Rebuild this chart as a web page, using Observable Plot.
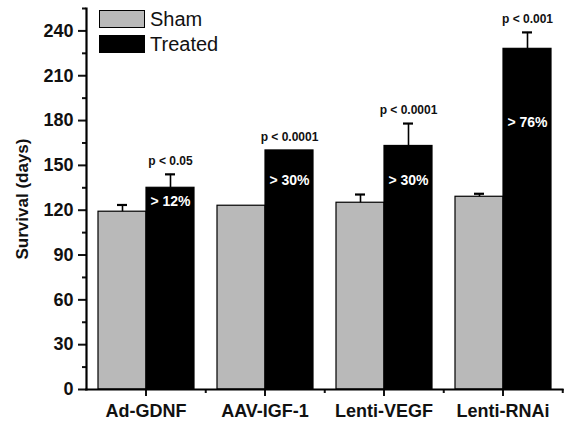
<!DOCTYPE html>
<html>
<head>
<meta charset="utf-8">
<script src="https://cdn.jsdelivr.net/npm/d3@7"></script>
<script src="https://cdn.jsdelivr.net/npm/@observablehq/plot@0.6"></script>
<style>
  html, body { margin: 0; padding: 0; background: #fff; }
  #wrap { position: relative; width: 566px; height: 444px; font-family: "Liberation Sans", Arial, sans-serif; }
  #legend { position: absolute; left: 99px; top: 7px; }
  .li { display: flex; align-items: center; height: 24px; margin-bottom: 1px; }
  .sw { width: 46px; height: 18px; border: 1.5px solid #000; box-sizing: border-box; margin-right: 5px; }
  .lt { font-size: 20px; color: #111; }
</style>
</head>
<body>
<div id="wrap"></div>
<script>
const groups = ["Ad-GDNF", "AAV-IGF-1", "Lenti-VEGF", "Lenti-RNAi"];
const series = ["Sham", "Treated"];
const shamDays = [119, 123, 125, 129];
const treatedDays = [135, 160, 163, 228];
const shamErr = [4.5, 0, 5.5, 2];
const treatedErr = [9, 0, 15, 11];
const pLabels = ["p < 0.05", "p < 0.0001", "p < 0.0001", "p < 0.001"];
const pctLabels = ["> 12%", "> 30%", "> 30%", "> 76%"];
const pctLabelAt = [126, 140, 140, 179];
const yTicks = [0, 30, 60, 90, 120, 150, 180, 210, 240];
const yMinorTicks = [15, 45, 75, 105, 135, 165, 195, 225, 255];
const seriesColors = ["#b9b9b9", "#000000"];

const data = groups.flatMap((g, i) => [
  {group: g, series: "Sham", days: shamDays[i], err: shamErr[i]},
  {group: g, series: "Treated", days: treatedDays[i], err: treatedErr[i]}
]);
const errs = data.filter(d => d.err > 0);
const notes = groups.map((g, i) => ({
  group: g, series: "Treated",
  top: treatedDays[i] + treatedErr[i],
  p: pLabels[i], pct: pctLabels[i], at: pctLabelAt[i]
}));

const chart = Plot.plot({
  width: 566, height: 444,
  marginLeft: 85, marginRight: 3, marginTop: 8, marginBottom: 55,
  style: {fontFamily: "Liberation Sans, Arial, sans-serif", background: "#fff", color: "#111"},
  fx: {domain: groups, padding: 0, label: null},
  x: {domain: series, paddingInner: 0, paddingOuter: 0.232, axis: null},
  y: {domain: [0, 255]},
  color: {domain: series, range: seriesColors},
  marks: [
    Plot.barY(data, {fx: "group", x: "series", y: "days", fill: "series", stroke: "#000", strokeWidth: 1.2}),
    Plot.ruleX(errs, {fx: "group", x: "series", y1: "days", y2: d => d.days + d.err, strokeWidth: 1.6, stroke: "#000"}),
    Plot.tickY(errs, {fx: "group", x: "series", y: d => d.days + d.err, insetLeft: 19, insetRight: 19, strokeWidth: 2.2, stroke: "#000"}),
    Plot.text(notes, {fx: "group", x: "series", y: "top", text: "p", dy: -13, fontWeight: "bold", fontSize: 12, fill: "#111"}),
    Plot.text(notes, {fx: "group", x: "series", y: "at", text: "pct", fill: "#fff", fontWeight: "bold", fontSize: 14}),
    Plot.axisY({ticks: yTicks, tickSize: 8, tickPadding: 5, fontSize: 18, fontWeight: "bold", strokeWidth: 2,
      label: null}),
    Plot.axisY({ticks: [], label: "Survival (days)", labelAnchor: "center", labelArrow: "none", labelOffset: 71,
      fontSize: 17, fontWeight: "bold"}),
    Plot.axisY({ticks: yMinorTicks, tickSize: 4, text: null, label: null, strokeWidth: 2}),
    Plot.axisFx({anchor: "bottom", tickSize: 7, tickPadding: 8, fontSize: 18, fontWeight: "bold", label: null, strokeWidth: 2}),
    Plot.axisFx({anchor: "bottom", tickSize: 4, text: null, label: null, dx: 59.75, strokeWidth: 2}),
    Plot.frame({anchor: "left", facet: "super", strokeWidth: 2.2, stroke: "#000"}),
    Plot.frame({anchor: "bottom", facet: "super", strokeWidth: 2.2, stroke: "#000"})
  ]
});

const wrap = document.getElementById("wrap");
wrap.appendChild(chart);
const legend = document.createElement("div");
legend.id = "legend";
series.forEach((s, i) => {
  const row = document.createElement("div");
  row.className = "li";
  const sw = document.createElement("div");
  sw.className = "sw";
  sw.style.background = seriesColors[i];
  const t = document.createElement("span");
  t.className = "lt";
  t.textContent = s;
  row.appendChild(sw); row.appendChild(t);
  legend.appendChild(row);
});
wrap.appendChild(legend);
</script>
</body>
</html>
